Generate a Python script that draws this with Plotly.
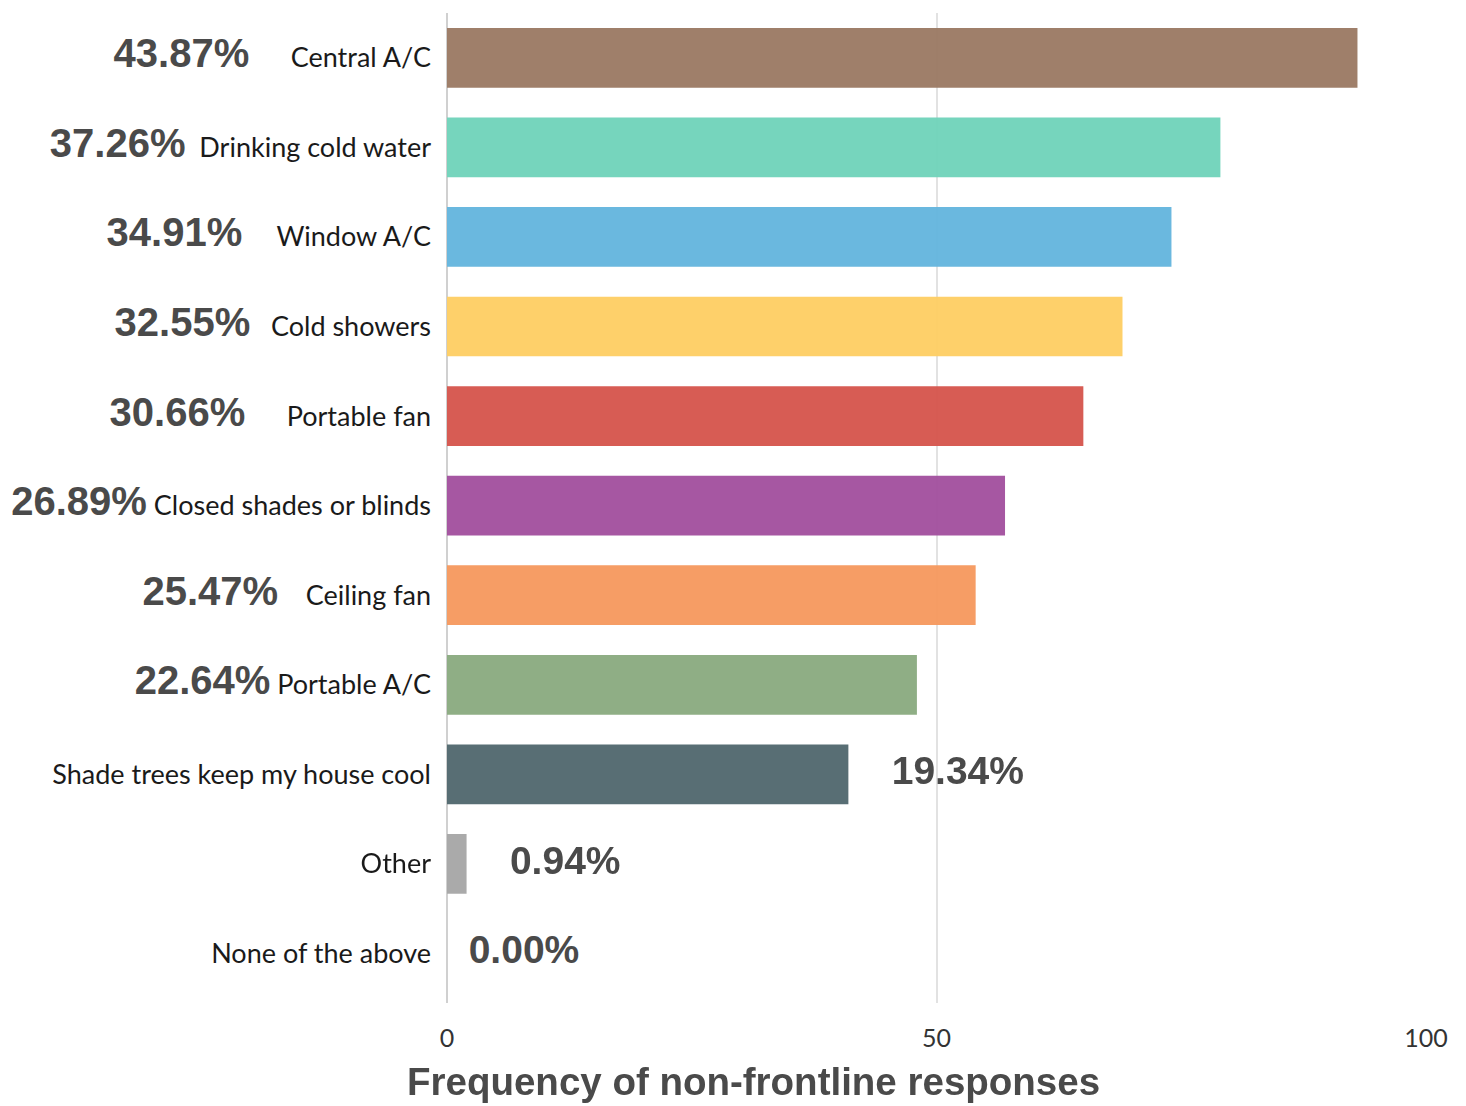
import plotly.graph_objects as go

categories = ["Central A/C", "Drinking cold water", "Window A/C", "Cold showers",
              "Portable fan", "Closed shades or blinds", "Ceiling fan", "Portable A/C",
              "Shade trees keep my house cool", "Other", "None of the above"]
counts = [93, 79, 74, 69, 65, 57, 54, 48, 41, 2, 0]
n_respondents = 212
colors = ["#9c7b66", "#72d4bb", "#66b6de", "#fecf66", "#d6574f", "#a4529f",
          "#f69a60", "#8cac82", "#536a70", "#a8a8a8", "#a8a8a8"]
# where the percentage label sits: next to the category label or after the bar
label_side = ["tick"] * 8 + ["bar"] * 3
# spacing (in non-breaking spaces) between percentage and text
gap_spaces = [6, 2, 5, 3, 6, 1, 4, 1, 4, 4, 2]
x_ticks = [0, 50, 100]

pct_text = [f"{c / n_respondents * 100:.2f}%" for c in counts]

PCT_STYLE = "font-family:Liberation Sans, Arial;font-size:40px;font-weight:bold;color:#4a4a4a"

ticktext = []
for cat, p, side, g in zip(categories, pct_text, label_side, gap_spaces):
    if side == "tick":
        ticktext.append(f"<span style='{PCT_STYLE}'><b>{p}</b></span>" + "&nbsp;" * g + cat)
    else:
        ticktext.append(cat)

fig = go.Figure()
fig.add_trace(go.Bar(
    x=counts, y=categories, orientation="h",
    marker=dict(color=colors, line=dict(width=0)),
    opacity=0.97, hoverinfo="x+y", showlegend=False,
))

bar_idx = [i for i, s in enumerate(label_side) if s == "bar"]
fig.add_trace(go.Scatter(
    x=[counts[i] for i in bar_idx],
    y=[categories[i] for i in bar_idx],
    mode="text",
    text=["&nbsp;" * gap_spaces[i] + f"<b>{pct_text[i]}</b>" for i in bar_idx],
    textposition="middle right",
    textfont=dict(family="Liberation Sans, Arial", size=39, color="#4a4a4a"),
    showlegend=False, hoverinfo="skip", cliponaxis=False,
))

fig.update_layout(
    width=1466, height=1106,
    margin=dict(l=439, r=48, t=5, b=111),
    paper_bgcolor="white", plot_bgcolor="white",
    bargap=0.333,
    font=dict(family="Lato, Open Sans, sans-serif", size=27, color="#1a1a1a"),
    xaxis=dict(
        range=[0, 100], tickvals=x_ticks, ticktext=[str(v) for v in x_ticks],
        showgrid=True, gridcolor="#e2e2e2", gridwidth=1.5,
        zeroline=True, zerolinecolor="#d0d0d0", zerolinewidth=1.5,
        showline=False, ticks="", ticklabelstandoff=18, automargin=False,
        tickfont=dict(family="Lato, sans-serif", size=25, color="#333333"),
        fixedrange=True,
    ),
    yaxis=dict(
        categoryorder="array", categoryarray=categories, autorange="reversed",
        tickvals=categories, ticktext=ticktext,
        showgrid=False, zeroline=False, showline=False, ticks="",
        ticklabelstandoff=15, automargin=False,
        tickfont=dict(family="Lato, sans-serif", size=27, color="#1a1a1a"),
        fixedrange=True,
    ),
    annotations=[dict(
        text="<b>Frequency of non-frontline responses</b>",
        xref="paper", yref="paper", x=0.3126, y=-0.079,
        xanchor="center", yanchor="middle", showarrow=False,
        font=dict(family="Liberation Sans, Arial", size=38.5, color="#4a4a4a"),
    )],
)

fig.write_html("out.html")
